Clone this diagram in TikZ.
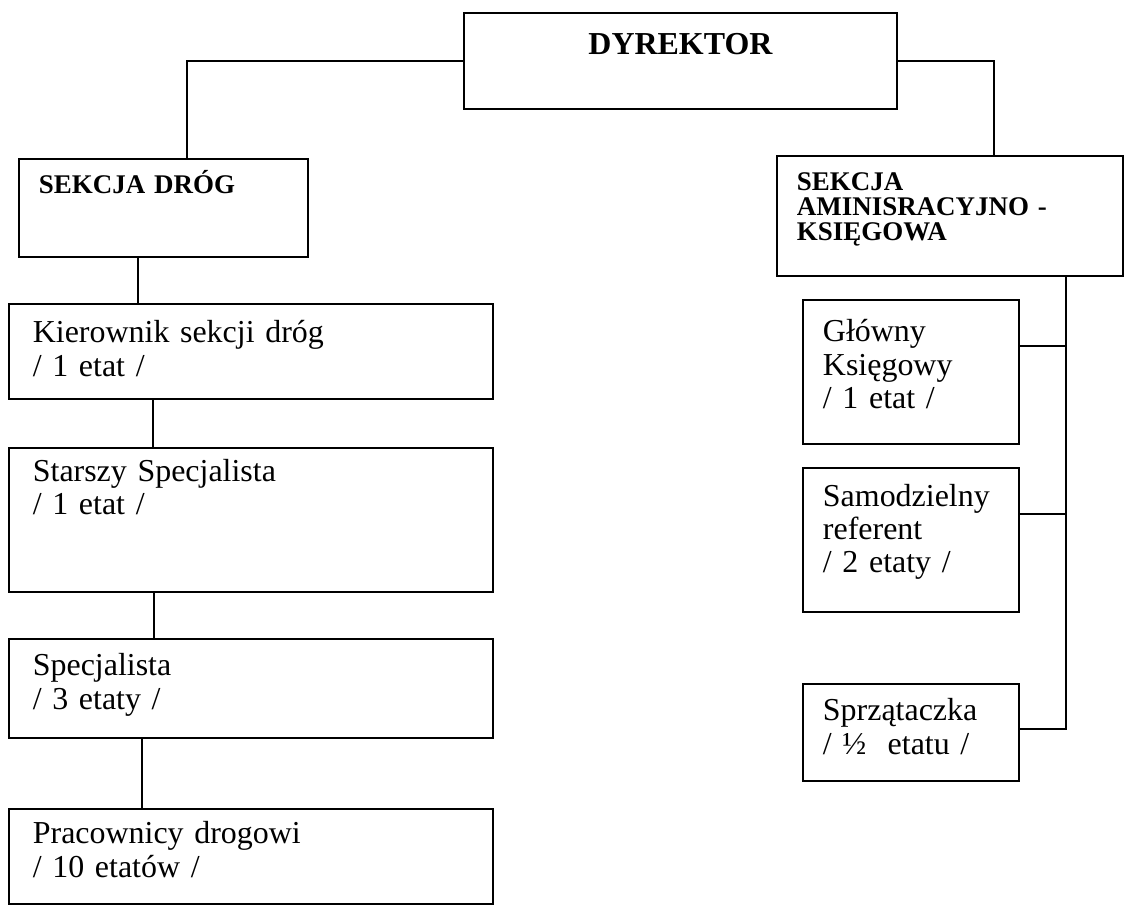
\documentclass[tikz,border=0pt]{standalone}
\usepackage{fontspec}
\setmainfont{Liberation Serif}
\usepackage{tikz}
\usetikzlibrary{calc}

\tikzset{
    etat/.style={draw=black, line width=0.7pt, rectangle, anchor=north west, align=left,
        inner ysep=0pt, font=\fontsize{11.5}{12}\selectfont},
    lewy/.style={etat, inner xsep=8.6pt, text width=157pt},
    prawy/.style={etat, inner xsep=7.2pt, text width=63.4pt},
    sekcja/.style={etat, inner xsep=7.2pt, font=\fontsize{9.7}{9}\selectfont\bfseries},
    linia/.style={draw=black, line width=0.7pt}
}

\begin{document}
\begin{tikzpicture}[x=0.36pt, y=-0.36pt]
            \useasboundingbox (0,0) rectangle (1124,905);

            % dyrektor i sekcje
            \node[etat, align=center, inner xsep=0pt, text width=155.9pt, text height=14.8pt, text depth=19.8pt,
                font=\fontsize{11.5}{12}\selectfont\bfseries] (dyr) at (463,12) {DYREKTOR};
            \node[sekcja, text width=89.6pt, text height=12.6pt, text depth=22.7pt] (drog) at (18,158) {SEKCJA DRÓG};
            \node[sekcja, text width=110.2pt, text height=12.6pt, text depth=30.6pt] (adm) at (776,155)
                {SEKCJA\\AMINISRACYJNO -\\KSIĘGOWA};

            % sekcja drog
            \node[lewy, text height=14pt, text depth=20.2pt] (kier) at (8,303) {Kierownik sekcji dróg\\/ 1 etat /};
            \node[lewy, text height=12pt, text depth=39.8pt] (star) at (8,447) {Starszy Specjalista\\/ 1 etat /};
            \node[lewy, text height=13.3pt, text depth=22.3pt] (spec) at (8,638) {Specjalista\\/ 3 etaty /};
            \node[lewy, text height=12.6pt, text depth=21.6pt] (prac) at (8,808) {Pracownicy drogowi\\/ 10 etatów /};

            % sekcja administracyjna
            \node[prawy, text height=15.1pt, text depth=36.7pt] (glow) at (802,299) {Główny\\Księgowy\\/ 1 etat /};
            \node[prawy, text height=13.7pt, text depth=38.1pt] (samo) at (802,467) {Samodzielny\\referent\\/ 2 etaty /};
            \node[prawy, text height=13.3pt, text depth=21.6pt] (sprz) at (802,683) {Sprzątaczka\\/ ½~ etatu /};
            \coordinate (bus) at (1066,275);

            \draw[linia] (dyr.west) -| ([xshift=8.5pt]drog.north);
            \draw[linia] (dyr.east) -| ([xshift=15.8pt]adm.north);
            \draw[linia] ([xshift=43.2pt]drog.south west) -- ([xshift=43.2pt]drog.south west |- kier.north);
            \draw[linia] ([xshift=52.2pt]kier.south west) -- ([xshift=52.2pt]star.north west);
            \draw[linia] ([xshift=52.5pt]star.south west) -- ([xshift=52.5pt]spec.north west);
            \draw[linia] ([xshift=48.2pt]spec.south west) -- ([xshift=48.2pt]prac.north west);
            \draw[linia] ([yshift=9.4pt]glow.east) -| (bus);
            \draw[linia] ([yshift=9.4pt]samo.east) -| (bus);
            \draw[linia] ([yshift=1.3pt]sprz.east) -| (bus);
        \end{tikzpicture}
\end{document}
